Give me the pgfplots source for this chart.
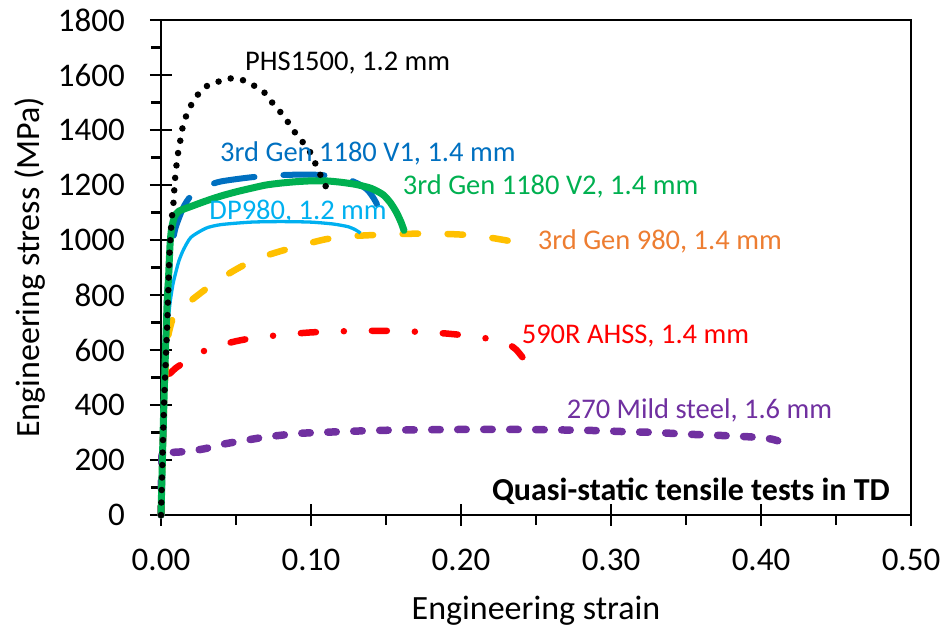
\documentclass[border=0pt]{standalone}
\usepackage{pgfplots}
\pgfplotsset{compat=1.18}
\usepackage{fontspec}
\setmainfont{Carlito}
\definecolor{cblue}{HTML}{0070C0}
\definecolor{cgreen}{HTML}{00B050}
\definecolor{clblue}{HTML}{00B0F0}
\definecolor{cgold}{HTML}{FFC000}
\definecolor{cred}{HTML}{FF0000}
\definecolor{cpurple}{HTML}{7030A0}
\definecolor{corange}{HTML}{ED7D31}
\begin{document}
\begin{tikzpicture}
\useasboundingbox (-161pt,-118pt) rectangle (783pt,515pt);
\begin{axis}[
  scale only axis, width=750pt, height=495pt,
  xmin=0, xmax=0.5, ymin=0, ymax=1800,
  axis line style={line width=2.2pt},
  every tick/.style={black, line width=2.2pt},
  xtick={0,0.1,0.2,0.3,0.4,0.5},
  ytick={0,200,...,1800},
  minor x tick num=1, minor y tick num=1,
  xtick pos=left, ytick pos=left,
  tick align=center,
  major tick length=22pt, minor tick length=10pt,
  minor x tick style={yshift=-5pt},
  minor y tick style={xshift=-5pt},
  /pgf/number format/assume math mode=true,
  /pgf/number format/1000 sep={},
  xticklabel style={/pgf/number format/fixed, /pgf/number format/fixed zerofill, /pgf/number format/precision=2, font=\fontsize{33}{36}\selectfont, inner sep=0pt, anchor=north, yshift=-23pt},
  yticklabel style={font=\fontsize{33}{36}\selectfont, inner sep=0pt, anchor=east, xshift=-25pt},
  scaled x ticks=false,
  xlabel={Engineering strain},
  ylabel={Engineering stress (MPa)},
  xlabel style={font=\fontsize{34}{38}\selectfont, at={(axis description cs:0.5,0)}, anchor=base, inner sep=0pt, yshift=-104pt},
  ylabel style={font=\fontsize{34}{38}\selectfont, at={(axis description cs:0,0.5)}, anchor=center, inner sep=0pt, yshift=131pt},
  clip=false,
]
% 270 Mild steel
\addplot[cpurple, line width=7.5pt, line cap=round, dash pattern=on 8.5pt off 17.5pt, smooth, tension=0.4] coordinates {
(0,0) (0.0008,230) (0.004,228) (0.008,228) (0.012,229) (0.02,233) (0.03,242) (0.04,256) (0.05,266) (0.06,275) (0.07,284) (0.08,290) (0.09,296) (0.10,299) (0.12,303) (0.14,307) (0.16,309) (0.20,311) (0.24,311) (0.27,309) (0.29,307) (0.31,303) (0.33,300) (0.35,294) (0.37,290) (0.39,285) (0.40,281) (0.407,276) (0.413,267)};
% 590R AHSS
\addplot[cred, line width=6.5pt, line cap=round, dash pattern=on 15pt off 28pt on 0pt off 28pt, smooth, tension=0.4] coordinates {
(0,0) (0.002,400) (0.0035,505) (0.006,515) (0.01,535) (0.015,553) (0.02,570) (0.03,600) (0.04,618) (0.05,632) (0.06,642) (0.08,655) (0.10,664) (0.12,668) (0.14,670) (0.16,669) (0.175,665) (0.19,660) (0.205,652) (0.215,644) (0.223,636) (0.232,620) (0.237,600) (0.2415,570)};
% 3rd Gen 980
\addplot[cgold, line width=6.5pt, line cap=round, dash pattern=on 15.5pt off 29.5pt, smooth, tension=0.4] coordinates {
(0,0) (0.002,400) (0.004,620) (0.006,680) (0.008,715) (0.012,745) (0.02,780) (0.03,822) (0.04,860) (0.05,893) (0.06,922) (0.07,943) (0.08,960) (0.09,975) (0.10,990) (0.11,1003) (0.12,1010) (0.13,1015) (0.15,1020) (0.17,1023) (0.19,1022) (0.205,1018) (0.22,1008) (0.236,993)};
% DP980
\addplot[clblue, line width=3.3pt, smooth, tension=0.4] coordinates {
(0,0) (0.002,400) (0.004,650) (0.006,770) (0.008,840) (0.01,885) (0.012,925) (0.015,965) (0.02,1010) (0.03,1043) (0.04,1056) (0.06,1065) (0.08,1067) (0.10,1065) (0.115,1058) (0.125,1048) (0.13,1036) (0.133,1025)};
% 3rd Gen 1180 V1
\addplot[cblue, line width=6pt, line cap=round, dash pattern=on 41pt off 29pt, smooth, tension=0.4] coordinates {
(0,0) (0.002,400) (0.004,780) (0.006,920) (0.008,1000) (0.01,1050) (0.015,1120) (0.02,1160) (0.03,1195) (0.04,1213) (0.06,1228) (0.08,1236) (0.10,1238) (0.115,1232) (0.125,1220) (0.133,1200) (0.138,1180) (0.142,1150) (0.144,1130)};
% 3rd Gen 1180 V2
\addplot[cgreen, line width=7pt, line cap=round, line join=round, smooth, tension=0.4] coordinates {
(0,0) (0.002,420) (0.004,760) (0.005,860) (0.006,980) (0.007,1040) (0.009,1085) (0.012,1105) (0.02,1122) (0.03,1142) (0.04,1160) (0.05,1175) (0.06,1188) (0.07,1200) (0.08,1207) (0.09,1212) (0.10,1215) (0.11,1215) (0.12,1210) (0.13,1202) (0.14,1188) (0.148,1165) (0.153,1135) (0.157,1100) (0.16,1065) (0.162,1035)};
% PHS1500
\addplot[black, line width=6.5pt, line cap=round, dash pattern=on 0pt off 12.5pt, smooth, tension=0.4] coordinates {
(0,0) (0.002,400) (0.0042,700) (0.0055,930) (0.0071,1073) (0.0082,1127) (0.0093,1218) (0.011,1303) (0.0127,1356) (0.014,1400) (0.0165,1447) (0.0198,1488) (0.0249,1531) (0.0309,1561) (0.0389,1577) (0.0471,1588) (0.056,1579) (0.0633,1557) (0.07,1531) (0.0753,1491) (0.0809,1457) (0.086,1418) (0.0909,1379) (0.0971,1339) (0.1011,1303) (0.1044,1257) (0.1082,1216) (0.1116,1172)};
% frame (top and right sides)
\draw[black, line width=2.2pt, line cap=rect] (rel axis cs:0,1) -- (rel axis cs:1,1) -- (rel axis cs:1,0);
% annotations
\node[anchor=base west, inner sep=0pt, font=\fontsize{28.5}{32}\selectfont, text=black] at (axis cs:0.056,1618) {PHS1500, 1.2 mm};
\node[anchor=base west, inner sep=0pt, font=\fontsize{28.5}{32}\selectfont, text=cblue] at (axis cs:0.0393,1285) {3rd Gen 1180 V1, 1.4 mm};
\node[anchor=base west, inner sep=0pt, font=\fontsize{28.5}{32}\selectfont, text=clblue] at (axis cs:0.0322,1073) {DP980, 1.2 mm};
\node[anchor=base west, inner sep=0pt, font=\fontsize{28.5}{32}\selectfont, text=cgreen] at (axis cs:0.1611,1164) {3rd Gen 1180 V2, 1.4 mm};
\node[anchor=base west, inner sep=0pt, font=\fontsize{28.5}{32}\selectfont, text=corange] at (axis cs:0.2511,966) {3rd Gen 980, 1.4 mm};
\node[anchor=base west, inner sep=0pt, font=\fontsize{28.5}{32}\selectfont, text=cred] at (axis cs:0.2404,622) {590R AHSS, 1.4 mm};
\node[anchor=base west, inner sep=0pt, font=\fontsize{28.5}{32}\selectfont, text=cpurple] at (axis cs:0.2705,351.5) {270 Mild steel, 1.6 mm};
\node[anchor=base east, inner sep=0pt, font=\bfseries\fontsize{32}{36}\selectfont, text=black] at (axis cs:0.486,54.5) {Quasi-static tensile tests in TD};
\end{axis}
\end{tikzpicture}
\end{document}
